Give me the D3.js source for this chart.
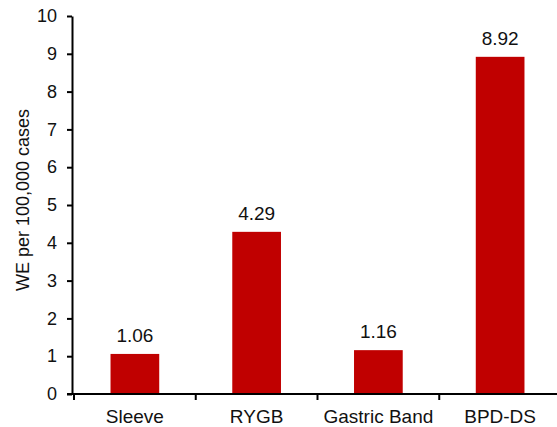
<!DOCTYPE html>
<html>
<head>
<meta charset="utf-8">
<script src="https://cdn.jsdelivr.net/npm/d3@7"></script>
<style>
  html, body { margin: 0; padding: 0; background: #fff; }
  svg { display: block; font-family: "Liberation Sans", Arial, sans-serif; }
</style>
</head>
<body>
<svg id="chart" width="557" height="427"></svg>
<script>
// Procedures and their WE rate per 100,000 cases
const procedures = ["Sleeve", "RYGB", "Gastric Band", "BPD-DS"];
const weRates = [1.06, 4.29, 1.16, 8.92];
const yTicks = [0, 1, 2, 3, 4, 5, 6, 7, 8, 9, 10];

const svg = d3.select("#chart");
const axisX = 72, bandStart = 74, bandEnd = 561, plotTop = 16, plotBottom = 394;

const x = d3.scaleBand()
  .domain(procedures)
  .range([bandStart, bandEnd])
  .paddingInner(0.6)
  .paddingOuter(0.3);

const y = d3.scaleLinear().domain([0, 10]).range([plotBottom, plotTop]);

// Bars
svg.append("g")
  .selectAll("rect")
  .data(procedures)
  .join("rect")
  .attr("x", d => x(d))
  .attr("width", x.bandwidth())
  .attr("y", (d, i) => y(weRates[i]))
  .attr("height", (d, i) => y(0) - y(weRates[i]))
  .attr("fill", "#C00000");

// Value labels above bars
svg.append("g")
  .selectAll("text")
  .data(procedures)
  .join("text")
  .attr("x", d => x(d) + x.bandwidth() / 2)
  .attr("y", (d, i) => y(weRates[i]) - 12)
  .attr("text-anchor", "middle")
  .attr("font-size", 19)
  .attr("fill", "#111")
  .text((d, i) => weRates[i].toFixed(2));

// Y axis
const yAxis = svg.append("g")
  .attr("transform", `translate(${axisX},0)`)
  .call(d3.axisLeft(y).tickValues(yTicks).tickSize(5).tickSizeOuter(0).tickPadding(10));
yAxis.select(".domain").attr("stroke", "#000").attr("stroke-width", 2);
yAxis.selectAll(".tick line").attr("stroke", "#000").attr("stroke-width", 2);
yAxis.selectAll(".tick text")
  .attr("font-size", 18)
  .attr("font-family", "Liberation Sans, Arial, sans-serif")
  .attr("fill", "#111");

// X axis: ticks mark the boundaries between categories
const step = x.step();
const boundaries = d3.range(procedures.length + 1).map(i => bandStart + i * step);
const xg = svg.append("g");
xg.append("line")
  .attr("x1", axisX - 5).attr("x2", 557)
  .attr("y1", plotBottom).attr("y2", plotBottom)
  .attr("stroke", "#000").attr("stroke-width", 2);
xg.selectAll("line.bt")
  .data(boundaries)
  .join("line")
  .attr("class", "bt")
  .attr("x1", d => d).attr("x2", d => d)
  .attr("y1", plotBottom).attr("y2", plotBottom + 6)
  .attr("stroke", "#000").attr("stroke-width", 2);
xg.selectAll("text")
  .data(procedures)
  .join("text")
  .attr("x", d => x(d) + x.bandwidth() / 2)
  .attr("y", plotBottom + 29)
  .attr("text-anchor", "middle")
  .attr("font-size", 19)
  .attr("fill", "#111")
  .text(d => d);

// Y axis title
svg.append("text")
  .attr("transform", `translate(29,200) rotate(-90)`)
  .attr("text-anchor", "middle")
  .attr("font-size", 18)
  .attr("fill", "#111")
  .text("WE per 100,000 cases");
</script>
</body>
</html>
